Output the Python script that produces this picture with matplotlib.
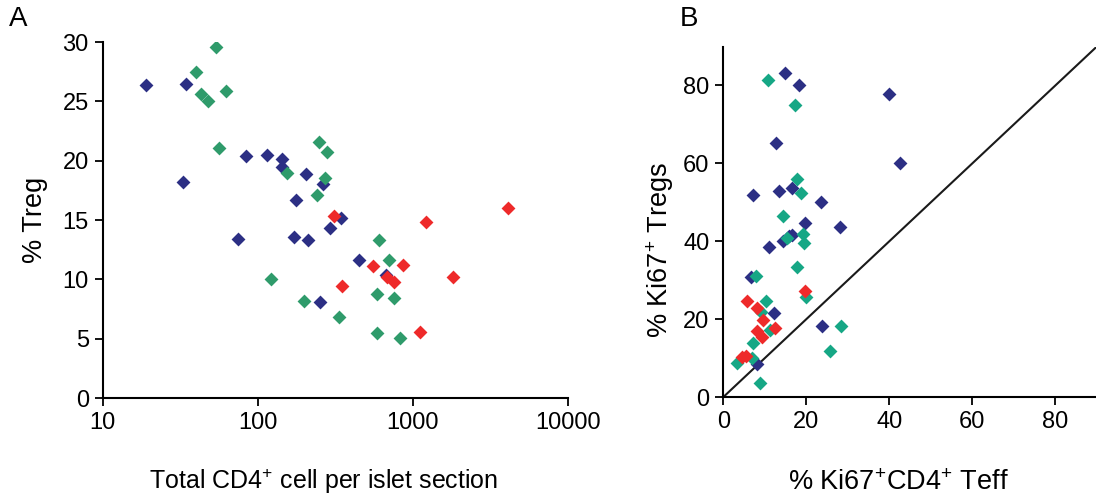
import numpy as np
import matplotlib
matplotlib.use("Agg")
import matplotlib.pyplot as plt
from matplotlib.ticker import FixedLocator, FixedFormatter

plt.rcParams['font.family'] = ['Liberation Sans', 'DejaVu Sans']
plt.rcParams['mathtext.fontset'] = 'custom'
plt.rcParams['mathtext.rm'] = 'Liberation Sans'
plt.rcParams['mathtext.default'] = 'regular'

# Panel A: total CD4+ cells per islet section vs % Treg
a_blue_x = [19, 34.5, 33, 75, 84, 114, 143, 143, 204, 263, 176, 344, 293, 171, 212, 453, 673, 252]
a_blue_y = [26.4, 26.5, 18.2, 13.4, 20.4, 20.5, 20.1, 19.5, 18.9, 18.0, 16.7, 15.2, 14.3, 13.6, 13.3, 11.6, 10.4, 8.1]
a_green_x = [40, 43, 47.6, 54, 62, 56.5, 154, 250, 281, 270, 241, 609, 700, 121, 586, 761, 199, 334, 586, 828]
a_green_y = [27.5, 25.6, 25.0, 29.6, 25.9, 21.1, 19.0, 21.6, 20.7, 18.5, 17.1, 13.3, 11.6, 10.05, 8.8, 8.45, 8.2, 6.85, 5.45, 5.05]
a_red_x = [312, 1219, 4120, 557, 861, 679, 757, 350, 1828, 1115]
a_red_y = [15.3, 14.8, 16.0, 11.1, 11.2, 10.2, 9.8, 9.4, 10.2, 5.6]

# Panel B: % Ki67+ CD4+ Teff vs % Ki67+ Tregs
b_blue_x = [14.9, 18.3, 39.9, 12.6, 42.6, 7.1, 13.4, 16.6, 23.5, 19.7, 28.1, 16.6, 14.3, 15.7, 11.1, 6.6, 12.2, 23.7, 8.2]
b_blue_y = [83.3, 80.0, 77.8, 65.1, 60.2, 51.9, 53.0, 53.7, 50.0, 44.8, 43.6, 41.5, 40.1, 41.3, 38.6, 30.7, 21.5, 18.2, 8.5]
b_green_x = [10.8, 17.3, 17.7, 18.6, 14.3, 19.3, 15.3, 19.4, 17.7, 7.9, 19.9, 10.3, 9.0, 11.3, 7.1, 28.3, 25.7, 3.4, 6.8, 8.8]
b_green_y = [81.4, 75.0, 56.1, 52.5, 46.5, 41.8, 40.9, 39.5, 33.5, 31.1, 25.6, 24.7, 21.9, 17.2, 13.9, 18.2, 11.9, 8.8, 9.9, 3.5]
b_red_x = [19.7, 5.8, 8.2, 9.5, 12.5, 8.2, 9.3, 4.6, 5.4]
b_red_y = [27.3, 24.7, 22.8, 19.8, 17.6, 17.0, 15.5, 10.4, 10.6]
diag = [0, 90]

a_xticks = [10, 100, 1000, 10000]
a_yticks = [0, 5, 10, 15, 20, 25, 30]
b_ticks = [0, 20, 40, 60, 80]

navy = '#2c2f84'
green_a = '#2f9b6b'
green_b = '#16a785'
red = '#ee2a2a'
ms = 50
lab_fs = 19.5

fig = plt.figure(figsize=(10.96, 4.99), dpi=100)
axA = fig.add_axes([0.0937, 0.2024, 0.4243, 0.7134])
axB = fig.add_axes([0.66, 0.2044, 0.3408, 0.7024])

for ax in (axA, axB):
    for s in ('top', 'right'):
        ax.spines[s].set_visible(False)
    for s in ('left', 'bottom'):
        ax.spines[s].set_linewidth(1.5)
    ax.tick_params(direction='out', length=6, width=1.3, labelsize=17, pad=4)

axA.scatter(a_blue_x, a_blue_y, marker='D', s=ms, color=navy, linewidths=0, zorder=3)
axA.scatter(a_green_x, a_green_y, marker='D', s=ms, color=green_a, linewidths=0, zorder=3)
axA.scatter(a_red_x, a_red_y, marker='D', s=ms, color=red, linewidths=0, zorder=3)
axA.set_xscale('log')
axA.set_xlim(10, 10000)
axA.set_ylim(0, 30)
axA.xaxis.set_major_locator(FixedLocator(a_xticks))
axA.xaxis.set_major_formatter(FixedFormatter([str(v) for v in a_xticks]))
axA.xaxis.set_minor_locator(FixedLocator([]))
axA.set_yticks(a_yticks)
axA.set_xlabel('Total CD4$^{+}$ cell per islet section', fontsize=18)
axA.xaxis.set_label_coords(0.476, -0.233)
axA.xaxis.label.set_va('center')
axA.set_ylabel('% Treg', fontsize=lab_fs)
axA.yaxis.set_label_coords(-0.145, 0.5)
axA.yaxis.label.set_va('center')

axB.plot(diag, diag, color='#1a1a1a', lw=1.5, zorder=2)
axB.scatter(b_blue_x, b_blue_y, marker='D', s=ms, color=navy, linewidths=0, zorder=3)
axB.scatter(b_green_x, b_green_y, marker='D', s=ms, color=green_b, linewidths=0, zorder=3)
axB.scatter(b_red_x, b_red_y, marker='D', s=ms, color=red, linewidths=0, zorder=3)
axB.set_xlim(0, 90)
axB.set_ylim(0, 90)
axB.set_xticks(b_ticks)
axB.set_yticks(b_ticks)
axB.set_xlabel('% Ki67$^{+}$CD4$^{+}$ Teff', fontsize=lab_fs)
axB.xaxis.set_label_coords(0.468, -0.245)
axB.xaxis.label.set_va('center')
axB.set_ylabel('% Ki67$^{+}$ Tregs', fontsize=lab_fs)
axB.yaxis.set_label_coords(-0.169, 0.42)
axB.yaxis.label.set_va('center')

fig.text(0.008, 0.935, 'A', fontsize=20, ha='left', va='bottom')
fig.text(0.620, 0.935, 'B', fontsize=20, ha='left', va='bottom')

fig.savefig('out.png', dpi=100)
